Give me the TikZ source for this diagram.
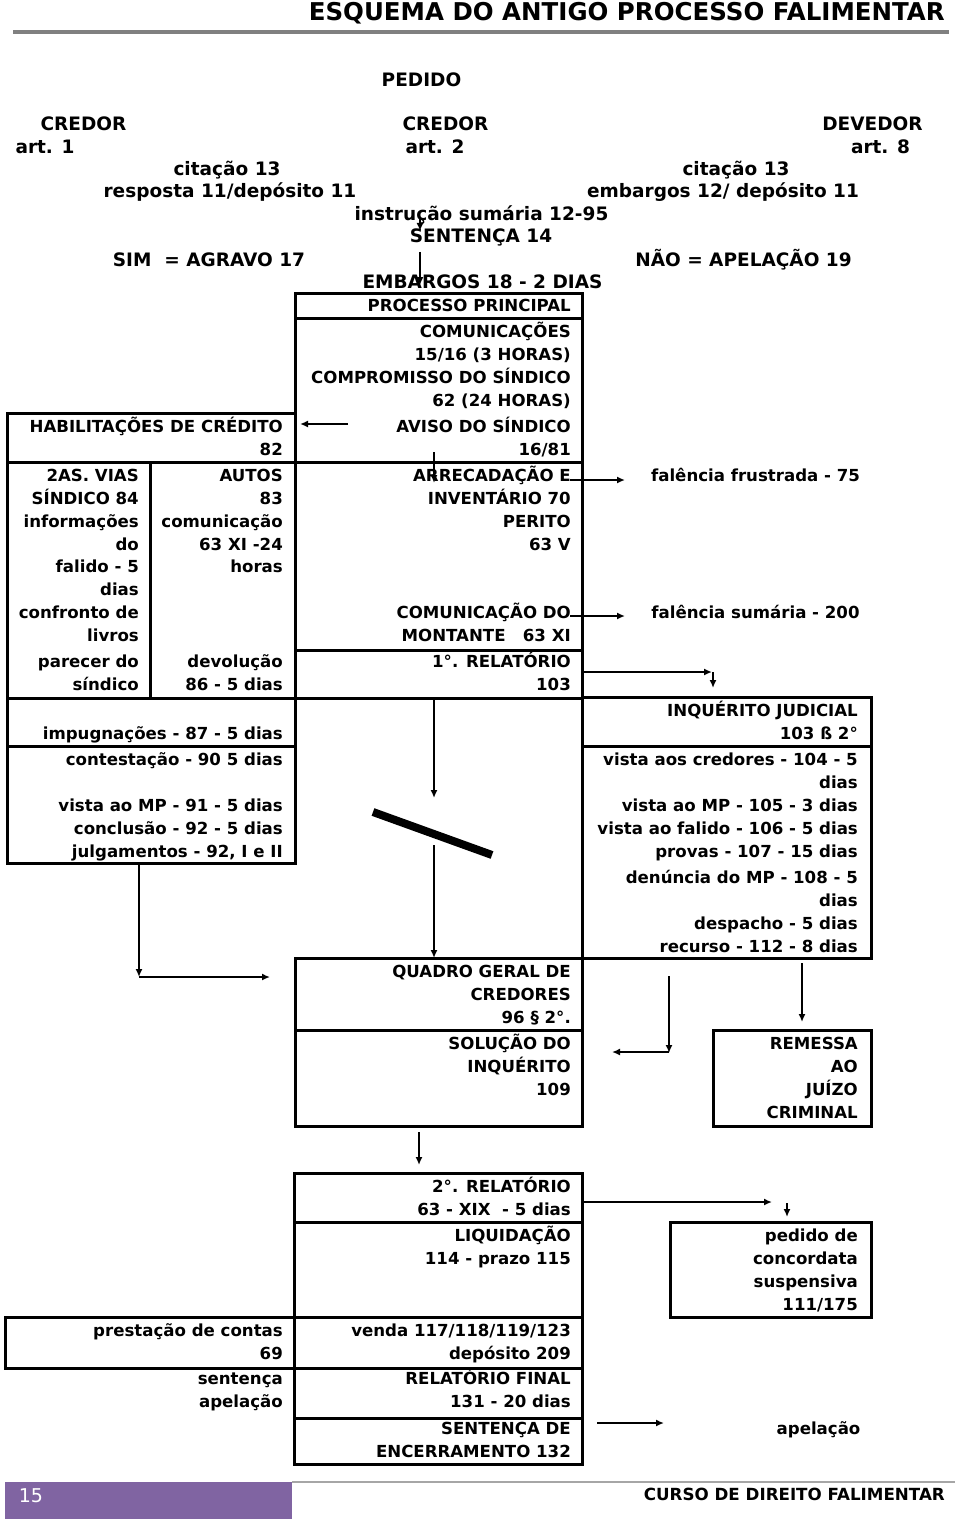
\documentclass[tikz,border=0pt]{standalone}
\usepackage{fontspec}
\setmainfont{DejaVu Sans}
\usetikzlibrary{arrows.meta}
\definecolor{purp}{HTML}{8064A2}
\definecolor{rulegray}{HTML}{808080}
\newcommand\bx[5]{\node[box,anchor=north west,minimum width={(#4-#2)*1pt},minimum height={(#5-#3)*1pt}] (#1) at (#2,#3) {};}
\newcommand\txR[4]{\node[txt,anchor=base east] (#1) at (#2,#3) {#4};}
\newcommand\txC[4]{\node[txt,anchor=base] (#1) at (#2,#3) {#4};}
\newcommand\hdC[4]{\node[hd,anchor=base] (#1) at (#2,#3) {#4};}
\begin{document}
\begin{tikzpicture}[x=1pt,y=-1pt,
  txt/.style={font=\bfseries\fontsize{16.6}{20}\selectfont,inner sep=0pt},
  hd/.style={font=\bfseries\fontsize{18.5}{22}\selectfont,inner sep=0pt},
  box/.style={draw,line width=3pt,inner sep=0pt,outer sep=0pt},
  arr/.style={line width=1.6pt,-{Latex[length=8pt,width=7pt]}}]
\useasboundingbox (0,0) rectangle (960,1522);
% header
\node[font=\bfseries\fontsize{24.5}{28}\selectfont,inner sep=0pt,anchor=base east] (title) at (945,21) {ESQUEMA DO ANTIGO PROCESSO FALIMENTAR};
\coordinate (rl) at (13,32); \coordinate (rr) at (949,32);
\draw[rulegray,line width=4pt] (rl) -- (rr);
\hdC{pedido}{421.5}{87}{PEDIDO}
\hdC{cr1}{83.5}{131}{CREDOR}
\hdC{a1}{45}{154}{art. 1}
\hdC{cr2}{445.5}{131}{CREDOR}
\hdC{a2}{435}{154}{art. 2}
\hdC{dev}{872.5}{131}{DEVEDOR}
\hdC{a8}{880.5}{154}{art. 8}
\hdC{cit1}{227}{176}{citação 13}
\hdC{cit2}{736}{176}{citação 13}
\hdC{resp}{230}{198}{resposta 11/depósito 11}
\hdC{emb}{723}{198}{embargos 12/ depósito 11}
\hdC{instr}{481.5}{221}{instrução sumária 12-95}
\hdC{sent}{481}{243}{SENTENÇA 14}
\hdC{sim}{209}{266}{SIM\ \ = AGRAVO 17}
\hdC{nao}{743.5}{266}{NÃO = APELAÇÃO 19}
\hdC{embd}{482.5}{288}{EMBARGOS 18 - 2 DIAS}
% boxes
\bx{b1}{295}{293}{582}{318}
\bx{b2}{295}{318}{582}{462}
\bx{b3}{7}{413}{295}{462}
\bx{b4}{7}{462}{150}{698}
\bx{b5}{150}{462}{295}{698}
\bx{b6}{295}{462}{582}{650}
\bx{b7}{295}{650}{582}{698}
\bx{b8}{7}{698}{295}{746}
\bx{b9}{7}{746}{295}{863}
\bx{b10}{582}{697}{871}{746}
\bx{b11}{582}{746}{871}{958}
\bx{b12}{295}{958}{582}{1030}
\bx{b13}{295}{1030}{582}{1126}
\bx{b14}{713}{1030}{871}{1126}
\bx{b15}{294}{1173}{582}{1222}
\bx{b16}{294}{1222}{582}{1317}
\bx{b17}{670}{1222}{871}{1317}
\bx{b18}{5}{1317}{294}{1368}
\bx{b19}{294}{1317}{582}{1368}
\bx{b20}{294}{1368}{582}{1418}
\bx{b21}{294}{1418}{582}{1464}
% upper texts
\txR{pp}{571}{311}{PROCESSO PRINCIPAL}
\txR{com}{571}{337}{COMUNICAÇÕES}
\txR{c1516}{571}{360}{15/16 (3 HORAS)}
\txR{comp}{571}{383}{COMPROMISSO DO SÍNDICO}
\txR{c62}{571}{406}{62 (24 HORAS)}
\txR{aviso}{571}{432}{AVISO DO SÍNDICO}
\txR{c1681}{571}{455}{16/81}
\txR{hab}{283}{432}{HABILITAÇÕES DE CRÉDITO}
\txR{h82}{283}{455}{82}
% row 2
\txR{l1}{139}{481}{2AS. VIAS}
\txR{l2}{139}{504}{SÍNDICO 84}
\txR{l3}{139}{527}{informações}
\txR{l4}{139}{550}{do}
\txR{l5}{139}{572}{falido - 5}
\txR{l6}{139}{595}{dias}
\txR{l7}{139}{618}{confronto de}
\txR{l8}{139}{641}{livros}
\txR{l9}{139}{667}{parecer do}
\txR{l10}{139}{690}{síndico}
\txR{m1}{283}{481}{AUTOS}
\txR{m2}{283}{504}{83}
\txR{m3}{283}{527}{comunicação}
\txR{m4}{283}{550}{63 XI -24}
\txR{m5}{283}{572}{horas}
\txR{m6}{283}{667}{devolução}
\txR{m7}{283}{690}{86 - 5 dias}
\txR{c1}{571}{481}{ARRECADAÇÃO E}
\txR{c2}{571}{504}{INVENTÁRIO 70}
\txR{c3}{571}{527}{PERITO}
\txR{c4}{571}{550}{63 V}
\txR{c5}{571}{618}{COMUNICAÇÃO DO}
\txR{c6}{571}{641}{MONTANTE\ \ \ 63 XI}
\txR{c7}{571}{667}{1°. RELATÓRIO}
\txR{c8}{571}{690}{103}
\txC{ff}{755.5}{481}{falência frustrada - 75}
\txC{fs}{755.5}{618}{falência sumária - 200}
% left lower
\txR{imp}{283}{739}{impugnações - 87 - 5 dias}
\txR{cont}{283}{765}{contestação - 90 5 dias}
\txR{vmp}{283}{811}{vista ao MP - 91 - 5 dias}
\txR{concl}{283}{834}{conclusão - 92 - 5 dias}
\txR{julg}{283}{857}{julgamentos - 92, I e II}
% inquerito
\txR{i1}{858}{716}{INQUÉRITO JUDICIAL}
\txR{i2}{858}{739}{103 ß 2°}
\txR{i3}{858}{765}{vista aos credores - 104 - 5}
\txR{i4}{858}{788}{dias}
\txR{i5}{858}{811}{vista ao MP - 105 - 3 dias}
\txR{i6}{858}{834}{vista ao falido - 106 - 5 dias}
\txR{i7}{858}{857}{provas - 107 - 15 dias}
\txR{i8}{858}{883}{denúncia do MP - 108 - 5}
\txR{i9}{858}{906}{dias}
\txR{i10}{858}{929}{despacho - 5 dias}
\txR{i11}{858}{952}{recurso - 112 - 8 dias}
% quadro
\txR{q1}{571}{977}{QUADRO GERAL DE}
\txR{q2}{571}{1000}{CREDORES}
\txR{q3}{571}{1023}{96 § 2°.}
\txR{s1}{571}{1049}{SOLUÇÃO DO}
\txR{s2}{571}{1072}{INQUÉRITO}
\txR{s3}{571}{1095}{109}
\txR{r1}{858}{1049}{REMESSA}
\txR{r2}{858}{1072}{AO}
\txR{r3}{858}{1095}{JUÍZO}
\txR{r4}{858}{1118}{CRIMINAL}
% bottom
\txR{rel1}{571}{1192}{2°. RELATÓRIO}
\txR{rel2}{571}{1215}{63 - XIX\ \ - 5 dias}
\txR{liq1}{571}{1241}{LIQUIDAÇÃO}
\txR{liq2}{571}{1264}{114 - prazo 115}
\txR{pd1}{858}{1241}{pedido de}
\txR{pd2}{858}{1264}{concordata}
\txR{pd3}{858}{1287}{suspensiva}
\txR{pd4}{858}{1310}{111/175}
\txR{pc1}{283}{1336}{prestação de contas}
\txR{pc2}{283}{1359}{69}
\txR{v1}{571}{1336}{venda 117/118/119/123}
\txR{v2}{571}{1359}{depósito 209}
\txR{se1}{283}{1384}{sentença}
\txR{se2}{283}{1407}{apelação}
\txR{rf1}{571}{1384}{RELATÓRIO FINAL}
\txR{rf2}{571}{1407}{131 - 20 dias}
\txR{enc1}{571}{1434}{SENTENÇA DE}
\txR{enc2}{571}{1457}{ENCERRAMENTO 132}
\txC{apel}{818.5}{1434}{apelação}
% arrows
\coordinate (p1a) at (420,218); \coordinate (p1b) at (420,231);
\draw[arr] (p1a) -- (p1b);
\coordinate (p2a) at (420,252); \coordinate (p2b) at (420,285);
\draw[arr] (p2a) -- (p2b);
\coordinate (p3a) at (348,424); \coordinate (p3b) at (300,424);
\draw[arr] (p3a) -- (p3b);
\coordinate (p4a) at (434,452); \coordinate (p4b) at (434,483);
\draw[arr] (p4a) -- (p4b);
\coordinate (p5a) at (570,480); \coordinate (p5b) at (625,480);
\draw[arr] (p5a) -- (p5b);
\coordinate (p6a) at (570,616); \coordinate (p6b) at (625,616);
\draw[arr] (p6a) -- (p6b);
\coordinate (p7a) at (582,672); \coordinate (p7b) at (712,672);
\draw[arr] (p7a) -- (p7b);
\coordinate (p7c) at (713,672); \coordinate (p7d) at (713,688);
\draw[arr] (p7c) -- (p7d);
\coordinate (p8a) at (434,698); \coordinate (p8b) at (434,798);
\draw[arr] (p8a) -- (p8b);
\coordinate (sla) at (373,812); \coordinate (slb) at (492,855);
\draw[line width=8pt] (sla) -- (slb);
\coordinate (p9a) at (434,845);
\draw[arr] (p9a) -- (b12.north -| p9a);
\coordinate (p10a) at (139,863); \coordinate (p10b) at (139,977);
\draw[arr] (p10a) -- (p10b);
\coordinate (p11b) at (270,977);
\draw[arr] (p10b) -- (p11b);
\coordinate (p12a) at (669,976); \coordinate (p12b) at (669,1053);
\draw[arr] (p12a) -- (p12b);
\coordinate (p13a) at (669,1052); \coordinate (p13b) at (612,1052);
\draw[arr] (p13a) -- (p13b);
\coordinate (p14a) at (802,963);
\draw[arr] (p14a) -- ([yshift=8pt]b14.north -| p14a);
\coordinate (p15a) at (419,1132);
\draw[arr] (p15a) -- ([yshift=8pt]b15.north -| p15a);
\coordinate (p16a) at (582,1202); \coordinate (p16b) at (772,1202);
\draw[arr] (p16a) -- (p16b);
\coordinate (p17a) at (787,1203); \coordinate (p17b) at (787,1217);
\draw[arr] (p17a) -- (p17b);
\coordinate (p18a) at (597,1423); \coordinate (p18b) at (664,1423);
\draw[arr] (p18a) -- (p18b);
% footer
\fill[purp] (5,1482) rectangle (292,1519);
\coordinate (fl) at (292,1482); \coordinate (fr) at (955,1482);
\draw[rulegray!70,line width=2pt] (fl) -- (fr);
\node[font=\fontsize{19}{22}\selectfont,text=white,inner sep=0pt,anchor=base] (pg) at (31,1502) {15};
\node[font=\bfseries\fontsize{16.7}{20}\selectfont,inner sep=0pt,anchor=base east] (curso) at (945,1500) {CURSO DE DIREITO FALIMENTAR};
\end{tikzpicture}
\end{document}
